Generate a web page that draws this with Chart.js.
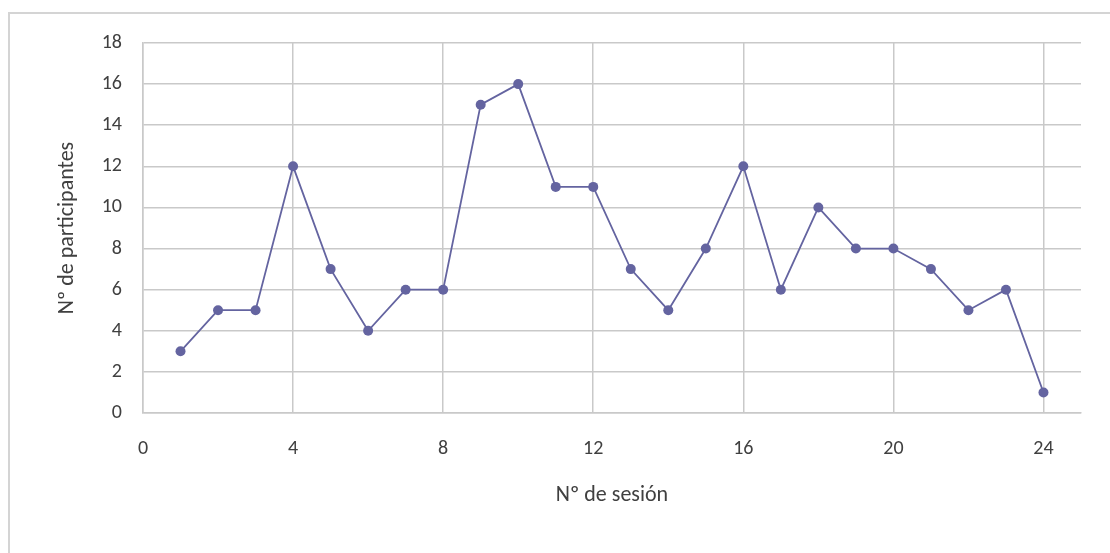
<!DOCTYPE html>
<html lang="es">
<head>
<meta charset="utf-8">
<title>Participantes por sesión</title>
<script src="https://cdn.jsdelivr.net/npm/chart.js@4/dist/chart.umd.min.js"></script>
<style>
  html, body { margin: 0; padding: 0; background: #ffffff; overflow: hidden; }
  #wrap { position: relative; width: 1110px; height: 553px; }
  canvas { display: block; }
</style>
</head>
<body>
<div id="wrap"><canvas id="chart" width="1110" height="553"></canvas></div>
<script>
// Session numbers and attendance per session
const sesiones = [1, 2, 3, 4, 5, 6, 7, 8, 9, 10, 11, 12, 13, 14, 15, 16, 17, 18, 19, 20, 21, 22, 23, 24];
const participantes = [3, 5, 5, 12, 7, 4, 6, 6, 15, 16, 11, 11, 7, 5, 8, 12, 6, 10, 8, 8, 7, 5, 6, 1];

// Axis ranges and tick spacing
const ejeX = { min: 0, max: 25, paso: 4 };
const ejeY = { min: 0, max: 18, paso: 2 };

const tituloX = 'Nº de sesión';
const tituloY = 'Nº de participantes';

const puntos = sesiones.map((s, i) => ({ x: s, y: participantes[i] }));

const fuente = 'Carlito, Calibri, "Open Sans", sans-serif';
const colorSerie = 'rgb(100,100,160)';
const colorRejilla = '#c9c9c9';
const colorTexto = '#404040';

// Thin frame around the chart object
const marco = {
  id: 'marco',
  beforeDraw(chart) {
    const ctx = chart.ctx;
    ctx.save();
    ctx.strokeStyle = '#d4d4d4';
    ctx.lineWidth = 2;
    ctx.beginPath();
    ctx.moveTo(9, chart.height + 5);
    ctx.lineTo(9, 13);
    ctx.lineTo(chart.width + 5, 13);
    ctx.stroke();
    ctx.restore();
  }
};

new Chart(document.getElementById('chart'), {
  type: 'scatter',
  data: {
    datasets: [{
      label: tituloY,
      data: puntos,
      showLine: true,
      borderColor: colorSerie,
      backgroundColor: colorSerie,
      borderWidth: 1.8,
      pointRadius: 5,
      pointHoverRadius: 5,
      pointBorderWidth: 0,
      tension: 0
    }]
  },
  options: {
    responsive: false,
    animation: false,
    events: [],
    layout: { padding: { left: 0, top: 43, right: 29, bottom: 0 } },
    plugins: {
      legend: { display: false },
      tooltip: { enabled: false }
    },
    scales: {
      x: {
        type: 'linear',
        position: 'bottom',
        min: ejeX.min,
        max: ejeX.max,
        afterFit(scale) { scale.height = 140; },
        grid: { color: colorRejilla, lineWidth: 1.5, drawTicks: false },
        border: { color: colorRejilla, width: 1.5 },
        ticks: {
          stepSize: ejeX.paso,
          includeBounds: false,
          padding: 24,
          color: colorTexto,
          font: { family: fuente, size: 20 }
        },
        title: {
          display: true,
          text: tituloX,
          color: colorTexto,
          font: { family: fuente, size: 22 },
          padding: { top: 0, bottom: 44 }
        }
      },
      y: {
        type: 'linear',
        min: ejeY.min,
        max: ejeY.max,
        afterFit(scale) { scale.width = 143; },
        grid: { color: colorRejilla, lineWidth: 1.5, drawTicks: false },
        border: { color: colorRejilla, width: 1.5 },
        ticks: {
          stepSize: ejeY.paso,
          padding: 21,
          color: colorTexto,
          font: { family: fuente, size: 20 }
        },
        title: {
          display: true,
          text: tituloY,
          color: colorTexto,
          font: { family: fuente, size: 22 },
          padding: { top: 54, bottom: 0 }
        }
      }
    }
  },
  plugins: [marco]
});
</script>
</body>
</html>
